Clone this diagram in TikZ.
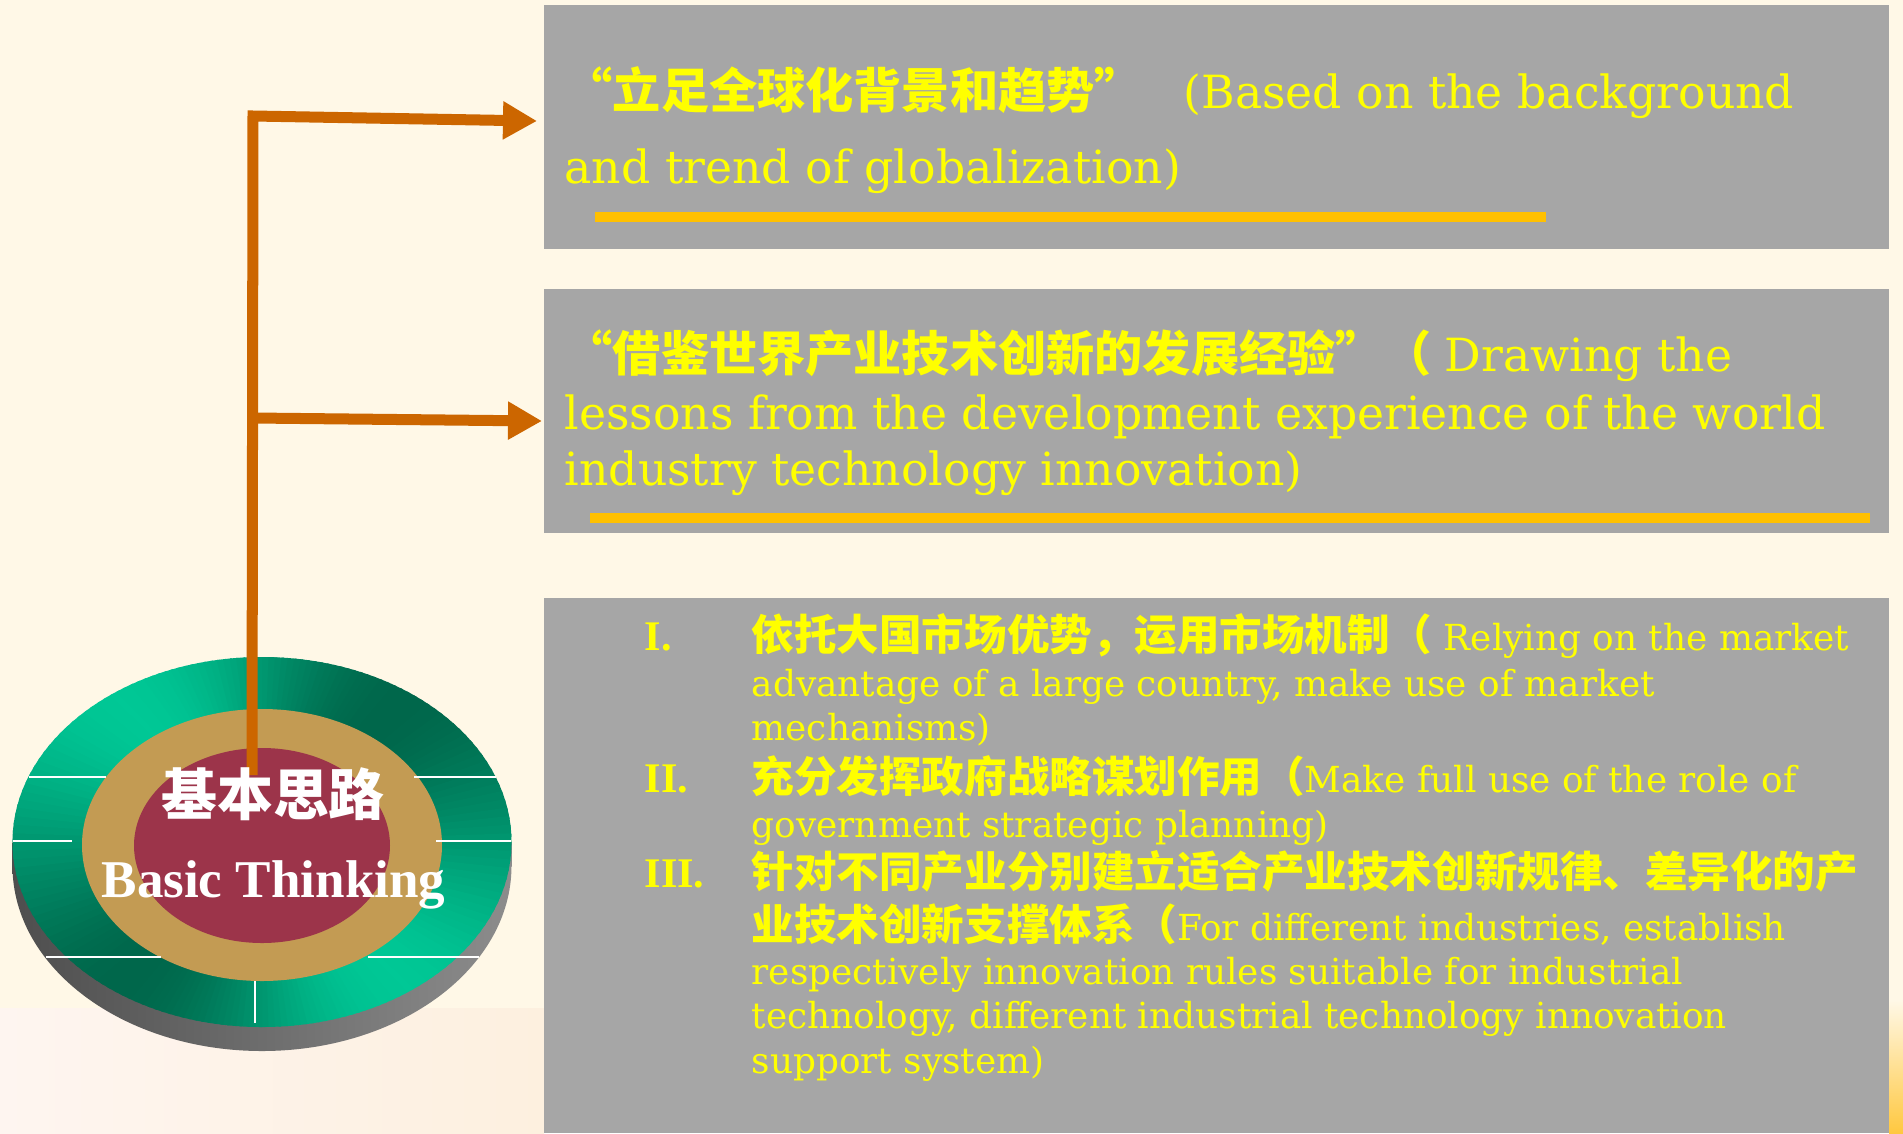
\documentclass[tikz,border=0pt]{standalone}
\usepackage{fontspec}
\setmainfont{DejaVu Serif}
\newfontfamily\cjk{Noto Sans CJK SC}
\newfontfamily\romanbf{Liberation Serif}
\usetikzlibrary{arrows.meta}

\definecolor{cream}{HTML}{FFF8E7}
\definecolor{creamlow}{HTML}{FEF5F0}
\definecolor{peachlow}{HTML}{FDF0DF}
\definecolor{edgegold}{HTML}{FFC840}
\definecolor{panelgray}{HTML}{A6A6A6}
\definecolor{textyellow}{HTML}{FFFF00}
\definecolor{rulegold}{HTML}{FFC000}
\definecolor{arrowbrown}{HTML}{CC6600}
\definecolor{greenlight}{HTML}{00C896}
\definecolor{greendark}{HTML}{00674B}
\definecolor{sidedark}{HTML}{4E4E4E}
\definecolor{sidelight}{HTML}{8C8C8C}
\definecolor{ringtan}{HTML}{C39B53}
\definecolor{coremaroon}{HTML}{9C344A}

% font sizes, one unit of the picture is 0.01cm
\newcommand\headsize{\fontsize{13}{15}\selectfont}
\newcommand\headcjk{\fontsize{13.7}{16}\selectfont}
\newcommand\itemsize{\fontsize{10.2}{12}\selectfont}
\newcommand\itemcjk{\fontsize{12.1}{14}\selectfont}
\newcommand\itemnum{\fontsize{12}{14}\selectfont}

\begin{document}
\begin{tikzpicture}[x=0.01cm, y=-0.01cm,
    panel/.style={fill=panelgray},
    goldrule/.style={fill=rulegold},
    line/.style={text=textyellow, anchor=base west, inner sep=0pt},
    trunk/.style={draw=arrowbrown, line width=0.11cm,
        -{Triangle[length=0.34cm, width=0.36cm]}},
    rim/.style={draw=white, line width=0.012cm}]

    % Page background
    \fill[cream] (0,0) rectangle (1903,1133);
    \useasboundingbox (0,0) rectangle (1903,1133);
    \shade[left color=creamlow, right color=peachlow] (0,1008) rectangle (544,1133);
    \shade[top color=cream, bottom color=edgegold] (1889,1000) rectangle (1903,1133);

    % Grey panels with their gold rules
    \fill[panel] (544,5) rectangle (1889,249);
    \fill[goldrule] (595,212) rectangle (1546,222);
    \fill[panel] (544,289) rectangle (1889,533);
    \fill[goldrule] (590,513) rectangle (1870,523);
    \fill[panel] (544,598) rectangle (1889,1133);

    % The disk
    \begin{scope}[shift={(262,842)}]
        % side of the disk
        \shade[left color=sidedark, right color=sidelight] (0,24) ellipse [x radius=249.5, y radius=185];
        \shade[left color=sidedark, right color=sidelight] (-249.5,0) rectangle (249.5,24);
        % top face, light and dark sectors
        \begin{scope}
            \clip (0,0) ellipse [x radius=249.5, y radius=185];
            \foreach \a in {0,2,...,358} {
                \pgfmathtruncatemacro\mixval{50+50*cos(2*(\a+1-45))}
                \fill[greenlight!\mixval!greendark] (0,0) -- (\a:320) -- ({\a+2.8}:320) -- cycle;
            }
        \end{scope}
        \fill[ringtan] (0,3) ellipse [x radius=180, y radius=136];
        \fill[coremaroon] (0,3.5) ellipse [x radius=128, y radius=97.5];
    \end{scope}

    % White ticks on the rim
    \draw[rim] (29,777) -- (106,777);
    \draw[rim] (414,777) -- (496,777);
    \draw[rim, line width=0.02cm] (12.5,841) -- (72,841);
    \draw[rim, line width=0.02cm] (436,841) -- (511,841);
    \draw[rim] (46,957) -- (161,957);
    \draw[rim] (368,957) -- (479,957);
    \draw[rim, line width=0.025cm] (255,981) -- (255,1023);

    % Branching arrow
    \coordinate (root) at (252,775);
    \coordinate (corner) at (253,116);
    \coordinate (fork) at (253,418);
    \coordinate (tip1) at (537,121);
    \coordinate (tip2) at (542,421);
    \draw[trunk] (root) -- (corner) -- (tip1);
    \draw[trunk] (fork) -- (tip2);

    % Label on the disk
    \node[anchor=base, inner sep=0pt, text=white, font={\cjk\bfseries\fontsize{15.9}{18}\selectfont}] (hub) at (273,815) {基本思路};
    \node[anchor=base, inner sep=0pt, text=white, font={\romanbf\bfseries\fontsize{15.1}{18}\selectfont}] (hubsub) at (273.5,897) {Basic Thinking};

    % First panel
    \node[line, font={\cjk\bfseries\headcjk}] (b1cn) at (564,108) {“立足全球化背景和趋势”};
    \node[line, font=\headsize] (b1en) at (1183,108) {(Based on the background};
    \node[line, font=\headsize] (b1en2) at (564,183) {and trend of globalization)};

    % Second panel
    \node[line, font={\cjk\bfseries\headcjk}] (b2cn) at (564,371) {“借鉴世界产业技术创新的发展经验”（};
    \node[line, font=\headsize] (b2l1) at (1444,371) {Drawing the};
    \node[line, font=\headsize] (b2l2) at (564,429) {lessons from the development experience of the world};
    \node[line, font=\headsize] (b2l3) at (564,485) {industry technology innovation)};

    % Third panel, numbered items
    \node[line, font={\romanbf\bfseries\itemnum}] (n1) at (644,650) {I.};
    \node[line, font={\romanbf\bfseries\itemnum}] (n2) at (644,792) {II.};
    \node[line, font={\romanbf\bfseries\itemnum}] (n3) at (644,887) {III.};

    \node[line, font=\itemsize] (i1a) at (751,650) {{\cjk\bfseries\itemcjk 依托大国市场优势，运用市场机制（} Relying on the market};
    \node[line, font=\itemsize] (i1b) at (751,696) {advantage of a large country, make use of market};
    \node[line, font=\itemsize] (i1c) at (751,740) {mechanisms)};
    \node[line, font=\itemsize] (i2a) at (751,792) {{\cjk\bfseries\itemcjk 充分发挥政府战略谋划作用（}Make full use of the role of};
    \node[line, font=\itemsize] (i2b) at (751,837) {government strategic planning)};
    \node[line, font={\cjk\bfseries\itemcjk}] (i3a) at (751,887) {针对不同产业分别建立适合产业技术创新规律、差异化的产};
    \node[line, font=\itemsize] (i3b) at (751,940) {{\cjk\bfseries\itemcjk 业技术创新支撑体系（}For different industries, establish};
    \node[line, font=\itemsize] (i3c) at (751,984) {respectively innovation rules suitable for industrial};
    \node[line, font=\itemsize] (i3d) at (751,1028) {technology, different industrial technology innovation};
    \node[line, font=\itemsize] (i3e) at (751,1073) {support system)};

\end{tikzpicture}
\end{document}
